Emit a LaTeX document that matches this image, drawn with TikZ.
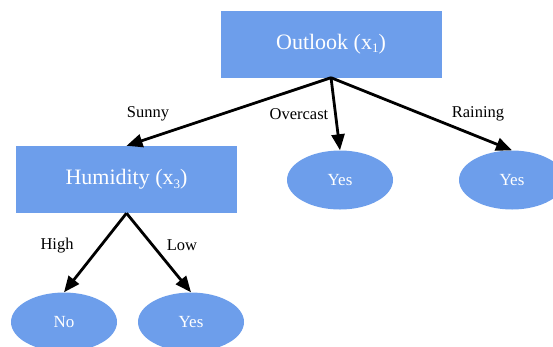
\documentclass[tikz,border=0pt]{standalone}
\usepackage{fontspec}
\setmainfont{Liberation Serif}
\usetikzlibrary{shapes.geometric,arrows.meta}
\definecolor{boxblue}{HTML}{6D9EEB}
\tikzset{
  rectbox/.style={fill=boxblue, draw=none, text=white, minimum width=221pt, minimum height=67pt, inner sep=0pt, font=\fontsize{22}{25}\selectfont},
  leaf/.style={ellipse, fill=boxblue, draw=none, text=white, minimum width=106pt, minimum height=59pt, inner sep=0pt, font=\fontsize{17}{20}\selectfont},
  edgelabel/.style={text=black, inner sep=0pt, font=\fontsize{16.5}{19}\selectfont},
  conn/.style={line width=2.8pt, -{Triangle[length=16pt,width=13pt]}}
}
\newcommand{\lowsub}[1]{\raisebox{-0.35ex}{\fontsize{13}{14}\selectfont #1}}
\begin{document}
\begin{tikzpicture}[x=1pt,y=1pt]
\useasboundingbox (0,0) rectangle (553,-346);
\clip (0,0) rectangle (553,-346);
\node[rectbox] (out) at (331,-44) {Outlook (x\lowsub{1})};
\node[rectbox] (hum) at (126.5,-179.5) {Humidity (x\lowsub{3})};
\node[leaf] (yes1) at (340,-180) {Yes};
\node[leaf] (yes2) at (512,-180) {Yes};
\node[leaf] (no) at (64,-322) {No};
\node[leaf] (yes3) at (191,-322) {Yes};
\draw[conn] (out.south) -- (hum.north);
\draw[conn] (out.south) -- (yes1.north);
\draw[conn] (out.south) -- (yes2.north);
\draw[conn] (hum.south) -- (no.north);
\draw[conn] (hum.south) -- (yes3.north);
\node[edgelabel] (lsunny) at (148,-114) {Sunny};
\node[edgelabel] (lover) at (299,-114) {Overcast};
\node[edgelabel] (lrain) at (478,-114) {Raining};
\node[edgelabel] (lhigh) at (57,-246) {High};
\node[edgelabel] (llow) at (182,-245) {Low};
\end{tikzpicture}
\end{document}
